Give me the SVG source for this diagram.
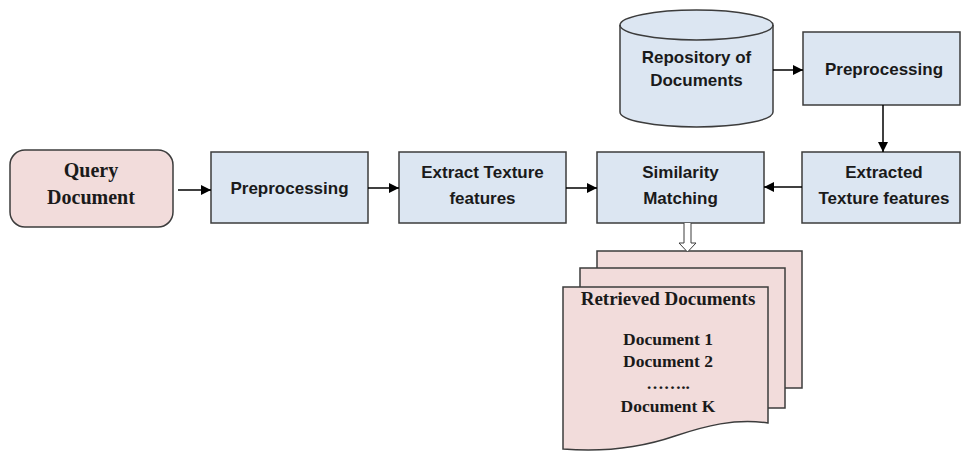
<svg xmlns="http://www.w3.org/2000/svg" width="962" height="454" viewBox="0 0 962 454">
<style>
.blue{fill:#dce6f2;stroke:#3c3c3c;stroke-width:1.5}
.pink{fill:#f2dcdb;stroke:#3c3c3c;stroke-width:1.5}
.sans{font-family:"Liberation Sans",Arial,sans-serif;font-weight:bold;font-size:17px;fill:#1a1a1a;text-anchor:middle}
.serif{font-family:"Liberation Serif","Times New Roman",serif;font-weight:bold;fill:#1a1a1a;text-anchor:middle}
.conn{stroke:#000;stroke-width:1.5;fill:none}
</style>
<defs>
<marker id="ah" viewBox="0 0 10 10" refX="10" refY="5" markerWidth="10" markerHeight="10" markerUnits="userSpaceOnUse" orient="auto">
<path d="M0,0 L10,5 L0,10 Z" fill="#000"/>
</marker>
</defs>
<rect width="962" height="454" fill="#fff"/>
<g id="query">
<rect class="pink" x="10" y="150" width="163" height="77" rx="15"/>
<text class="serif" font-size="20" x="91" y="177">Query</text>
<text class="serif" font-size="20" x="91" y="204">Document</text>
</g>
<g id="preprocessing1">
<rect class="blue" x="211" y="152" width="157" height="71"/>
<text class="sans" x="289.5" y="194">Preprocessing</text>
</g>
<g id="extract">
<rect class="blue" x="399" y="152" width="167" height="71"/>
<text class="sans" x="482.5" y="178">Extract Texture</text>
<text class="sans" x="482.5" y="204">features</text>
</g>
<g id="similarity">
<rect class="blue" x="597" y="152" width="167" height="71"/>
<text class="sans" x="680.5" y="178">Similarity</text>
<text class="sans" x="680.5" y="204">Matching</text>
</g>
<g id="extracted">
<rect class="blue" x="802" y="152" width="158" height="71"/>
<text class="sans" x="884" y="178">Extracted</text>
<text class="sans" x="884" y="204">Texture features</text>
</g>
<g id="repository">
<path class="blue" d="M620,25 A76.5,15 0 0 1 773,25 V112 A76.5,15 0 0 1 620,112 Z"/>
<path d="M620,25 A76.5,15 0 0 0 773,25" fill="none" stroke="#3c3c3c" stroke-width="1.5"/>
<text class="sans" x="696.5" y="63">Repository of</text>
<text class="sans" x="696.5" y="86">Documents</text>
</g>
<g id="preprocessing2">
<rect class="blue" x="803" y="32" width="157" height="73"/>
<text class="sans" x="884" y="75">Preprocessing</text>
</g>
<g id="retrieved">
<rect class="pink" x="597" y="251" width="205" height="137"/>
<rect class="pink" x="580" y="268" width="205" height="140"/>
<path class="pink" d="M563,287 H768 V423 C735,418 705,426 675,436 C640,448 600,452 563,449 Z"/>
<text class="serif" font-size="19" x="668" y="305">Retrieved Documents</text>
<text class="serif" font-size="17.5" x="668" y="345">Document 1</text>
<text class="serif" font-size="17.5" x="668" y="367">Document 2</text>
<text class="serif" font-size="17.5" x="668" y="389">……..</text>
<text class="serif" font-size="17.5" x="668" y="412">Document K</text>
</g>
<g id="connectors">
<line class="conn" x1="178" y1="190" x2="211" y2="190" marker-end="url(#ah)"/>
<line class="conn" x1="368" y1="188" x2="399" y2="188" marker-end="url(#ah)"/>
<line class="conn" x1="566" y1="188" x2="597" y2="188" marker-end="url(#ah)"/>
<line class="conn" x1="802" y1="187" x2="764" y2="187" marker-end="url(#ah)"/>
<line class="conn" x1="773" y1="70" x2="803" y2="70" marker-end="url(#ah)"/>
<line class="conn" x1="883" y1="105" x2="883" y2="152" marker-end="url(#ah)"/>
<path d="M684,223 V243 H679 L687.5,252 L696,243 H691 V223" fill="#fff" stroke="#3c3c3c" stroke-width="1"/>
</g>
</svg>
